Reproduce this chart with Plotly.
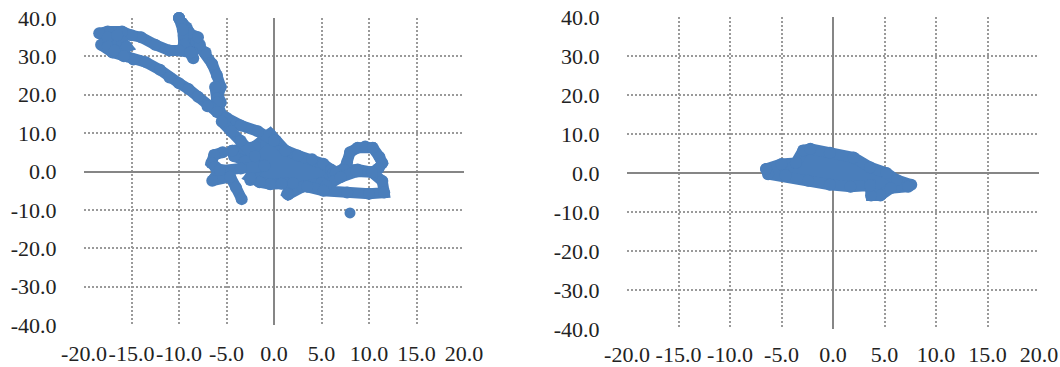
import plotly.graph_objects as go
from plotly.subplots import make_subplots

x_ticks = [-20, -15, -10, -5, 0, 5, 10, 15, 20]
x_labels = ["-20.0", "-15.0", "-10.0", "-5.0", "0.0", "5.0", "10.0", "15.0", "20.0"]
y_ticks = [-40, -30, -20, -10, 0, 10, 20, 30, 40]
y_labels = ["-40.0", "-30.0", "-20.0", "-10.0", "0.0", "10.0", "20.0", "30.0", "40.0"]

left_upper_x = [-10, -9.2, -8.2, -7.2, -6.5, -6, -5.6, -6, -5.6, -6.2, -6, -5.4]
left_upper_y = [40, 37.5, 34, 31, 28, 25, 22, 19, 18, 22, 18, 14]
left_wedge_x = [-10, -8.2, -9.4, -9.2, -7.8, -8.6, -9, -8]
left_wedge_y = [40, 34, 34, 32, 33, 31, 36, 35]
left_spike_x = [-10, -9.6, -9.5, -8.8, -8.5, -8.8, -10, -11, -12.5, -14, -15, -16, -17.5, -18.4, -17, -18.2, -17, -15.5, -14.8, -13.5, -12, -11, -10, -9, -8, -7, -6, -5, -3.5, -1.7, 0]
left_spike_y = [40, 37, 33, 31, 29.5, 31, 31.5, 31.5, 33, 35, 35.5, 36.5, 36.5, 36, 34, 33, 31, 30, 29.2, 28.5, 26.5, 24.5, 23, 21.5, 19.5, 17, 15.5, 14, 12, 10.5, 8]
left_knot_x = [-17.5, -16, -17.5, -16.5, -15.5, -16.8, -15.8]
left_knot_y = [35, 34, 32.5, 35.5, 32.5, 31.5, 30]
left_link_x = [-5.5, -4.5, -3.5, -2]
left_link_y = [13, 10.5, 8, 4]

left_blob_x = [-4.4, -3, -2, -0.4, 0.2, 1.2, 2.5, 4, 5.2, 6, 6.3, 5, 3, 1.5, 1.4, 2, 0.8, -0.4, -1.5, -2.5, -2.5, -1.5, -3, -4.2]
left_blob_y = [5.4, 5.8, 6.5, 9.8, 8, 5.5, 4.2, 3.2, 2, 0.5, -1, -3, -4, -6, -5.8, -3, -3.2, -3.3, -2.8, -2.2, -1.5, 1.2, 2.6, 4]
left_bar_x = [-5.4, -3.5, -1]
left_bar_y = [0.3, 0.8, 1.5]

left_small_x = [-5.4, -6.3, -6.6, -6.2, -5.7, -6.5, -4.6, -4, -3.4]
left_small_y = [5, 4.3, 2.2, 1.2, 0.4, -2.4, -1.4, -4.2, -7.2]

left_loop_x = [6.2, 7.4, 7.7, 8, 8.8, 9.6, 10.4, 11.1, 11.4, 11, 10.3, 8.8, 7.4, 6.5]
left_loop_y = [-0.5, 0.8, 2.5, 5, 6.2, 6.5, 6.2, 3.8, 2.2, 0.8, -0.2, 0.5, 0.4, -0.5]
left_low_x = [5.5, 7, 8.7, 10.3, 11.4, 11.6, 10, 7.7, 5.2, 3.5]
left_low_y = [-3.7, -1.5, 0, -0.2, -2.5, -5.5, -5.8, -5.5, -5, -4]
left_lone_x = [8]
left_lone_y = [-10.8]

right_blob_x = [-6.5, -5, -3.6, -2.9, -2.2, -0.3, 2, 3.6, 5.2, 6.2, 7.6, 7.3, 5.6, 4.6, 3.7, 3.6, 1.7, -0.3, -2.4, -4.6, -6.3]
right_blob_y = [1, 2.3, 2.6, 5.8, 6.2, 5.2, 4, 1.5, 0, -1.8, -3, -3.5, -3.9, -5.8, -5.8, -3.2, -3.5, -3, -2, -0.6, -0.3]

MARKER = "#4a7ebb"
GRID = "#9a9a9a"
AXIS = "#868686"
FONT = dict(family="Liberation Serif", size=22, color="#222222")
CLEAR = "rgba(0,0,0,0)"

fig = make_subplots(rows=1, cols=2)


def add_path(x, y, col, filled=False, size=12, width=11):
    fig.add_trace(
        go.Scatter(
            x=x, y=y, mode="lines+markers",
            line=dict(color=MARKER, width=width),
            marker=dict(color=MARKER, size=size),
            fill="toself" if filled else None,
            fillcolor=MARKER if filled else None,
            showlegend=False, cliponaxis=False,
        ),
        row=1, col=col,
    )


add_path(left_blob_x + left_blob_x[:1], left_blob_y + left_blob_y[:1], 1, True)
add_path(left_bar_x, left_bar_y, 1)
add_path(left_upper_x, left_upper_y, 1)
add_path(left_wedge_x, left_wedge_y, 1)
add_path(left_spike_x, left_spike_y, 1)
add_path(left_knot_x, left_knot_y, 1)
add_path(left_link_x, left_link_y, 1)
add_path(left_small_x, left_small_y, 1)
add_path(left_loop_x, left_loop_y, 1)
add_path(left_low_x, left_low_y, 1)
add_path(left_lone_x, left_lone_y, 1, size=11)
add_path(right_blob_x + right_blob_x[:1], right_blob_y + right_blob_y[:1], 2, True)

for c, tick_len in ((1, 9), (2, 6)):
    fig.update_xaxes(
        row=1, col=c, range=[-20, 20], tickmode="array", tickvals=x_ticks, ticktext=x_labels,
        showgrid=True, gridcolor=GRID, griddash="2px,2px", gridwidth=1.5,
        zeroline=True, zerolinecolor=AXIS, zerolinewidth=2.2, showline=False,
        tickfont=FONT, ticks="outside", ticklen=tick_len, tickcolor=CLEAR, tickangle=0,
    )
    fig.update_yaxes(
        row=1, col=c, range=[-40, 40], tickmode="array", tickvals=y_ticks, ticktext=y_labels,
        showgrid=True, gridcolor=GRID, griddash="2px,2px", gridwidth=1.5,
        zeroline=True, zerolinecolor=AXIS, zerolinewidth=2.2, showline=False,
        tickfont=FONT, ticks="outside", ticklen=22, tickcolor=CLEAR,
    )

W, H = 1060, 367
fig.update_layout(
    width=W, height=H, margin=dict(l=0, r=0, t=0, b=0, autoexpand=False),
    paper_bgcolor="white", plot_bgcolor="white", showlegend=False,
    xaxis=dict(domain=[84 / W, 464 / W]),
    xaxis2=dict(domain=[627 / W, 1039 / W]),
    yaxis=dict(domain=[1 - 325 / H, 1 - 18 / H]),
    yaxis2=dict(domain=[1 - 329 / H, 1 - 17 / H]),
)
fig.write_html("out.html", config=dict(displayModeBar=False),
               post_script="document.body.style.margin='0';")
